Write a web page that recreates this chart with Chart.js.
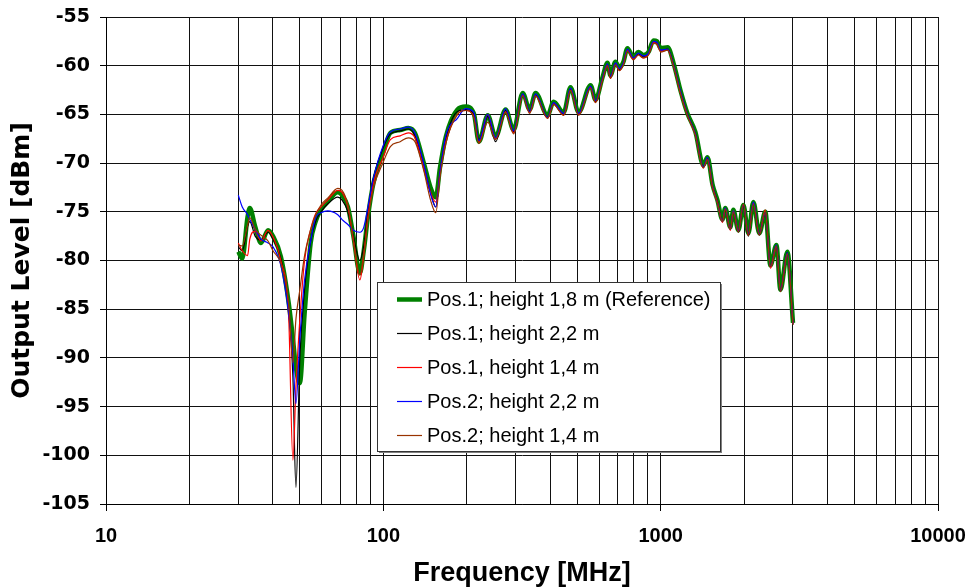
<!DOCTYPE html>
<html>
<head>
<meta charset="utf-8">
<script src="https://cdn.jsdelivr.net/npm/chart.js@4.4.1/dist/chart.umd.min.js"></script>
<style>
  html, body { margin: 0; padding: 0; background: #fff; }
  #wrap { position: relative; width: 968px; height: 588px; }
</style>
</head>
<body>
<div id="wrap"><canvas id="myChart"></canvas></div>
<script>
const FONT = '"Liberation Sans", Arial, sans-serif';
const WIDE = '"DejaVu Sans", "Liberation Sans", sans-serif';

// frequency points (MHz), shared by all measurements
const freqMHz = [
  30, 31, 32.4, 33, 34.5, 36.2, 38.4, 40, 42.7, 45.6,
  47.2, 48.4, 50, 52, 54.7, 57, 59.6, 63, 68.5, 71,
  74.5, 78, 82.3, 85, 88, 92.2, 99.6, 106, 115, 123,
  130, 140, 148, 154.6, 160, 168, 185, 198, 212, 221,
  238, 254, 276, 295, 318, 337, 354, 391, 411, 447,
  473, 506, 559, 582, 617, 643, 659, 687, 710, 734,
  759, 797, 831, 867, 904, 942, 970, 1000, 1060, 1112,
  1178, 1249, 1334, 1425, 1475, 1538, 1602, 1670, 1710, 1783,
  1828, 1906, 1987, 2071, 2159, 2268, 2384, 2488, 2614, 2703,
  2864, 3000
];

// Pos.1; height 1,8 m (Reference)
const levelRef = [
  -79.1, -79.8, -75.5, -74.6, -76.5, -78.2, -76.9, -77.5, -79.6, -84.4,
  -88.0, -91.0, -92.6, -85.5, -78.2, -76.0, -74.8, -74.0, -73.0, -73.3,
  -74.5, -77.5, -81.3, -79.0, -75.5, -72.0, -69.0, -66.9, -66.6, -66.4,
  -66.9, -70.0, -72.5, -73.5, -70.5, -67.3, -64.5, -64.2, -64.9, -67.8,
  -65.1, -67.3, -64.5, -66.6, -62.8, -64.5, -62.8, -65.1, -63.7, -64.8,
  -62.2, -64.8, -62.0, -63.5, -61.2, -59.7, -61.0, -59.6, -60.2, -59.6,
  -58.2, -59.1, -58.6, -58.9, -58.6, -57.4, -57.5, -58.2, -58.1, -59.7,
  -62.5, -64.9, -66.8, -70.2, -69.4, -72.2, -73.8, -75.8, -74.6, -76.6,
  -74.8, -76.9, -74.3, -77.2, -74.0, -77.2, -75.0, -80.5, -78.4, -83.0,
  -79.1, -86.4
];

// Pos.1; height 2,2 m
const levelP1h22 = [
  -78.6, -79.0, -76.5, -76.0, -77.5, -77.9, -77.1, -77.8, -79.8, -85.0,
  -92.0, -103.3, -90.0, -83.0, -78.0, -76.0, -75.0, -74.2, -73.5, -73.8,
  -75.0, -77.5, -80.0, -78.5, -75.0, -71.5, -68.5, -67.0, -66.7, -66.5,
  -67.2, -70.3, -73.0, -74.5, -71.0, -67.5, -64.7, -64.5, -65.0, -67.6,
  -65.2, -67.8, -64.6, -66.8, -63.0, -64.7, -63.0, -65.3, -63.9, -65.0,
  -62.4, -65.0, -62.2, -63.7, -61.4, -59.9, -61.2, -59.8, -60.4, -59.8,
  -58.4, -59.3, -58.8, -59.1, -58.8, -57.6, -57.7, -58.5, -58.3, -59.9,
  -62.7, -65.0, -67.0, -70.4, -69.5, -72.4, -73.9, -76.0, -74.8, -76.8,
  -75.0, -77.1, -74.4, -77.5, -74.1, -77.4, -75.1, -80.6, -78.5, -83.2,
  -79.2, -86.6
];

// Pos.1, height 1,4 m
const levelP1h14 = [
  -78.2, -79.0, -79.5, -77.8, -77.0, -78.0, -76.9, -77.6, -80.0, -86.0,
  -100.5, -93.0, -86.0, -80.0, -76.8, -75.2, -74.5, -73.8, -72.8, -73.0,
  -74.5, -78.0, -82.0, -79.5, -75.5, -72.0, -69.5, -67.6, -67.2, -66.9,
  -67.4, -70.5, -73.0, -74.0, -71.0, -67.8, -65.0, -64.6, -65.2, -67.9,
  -65.0, -67.5, -64.7, -66.9, -63.0, -64.8, -63.1, -65.4, -63.9, -65.1,
  -62.5, -65.0, -62.2, -63.8, -61.4, -59.9, -61.3, -59.8, -60.5, -59.8,
  -58.4, -59.3, -58.9, -59.2, -58.8, -57.6, -57.8, -58.5, -58.4, -60.0,
  -62.8, -65.1, -67.1, -70.5, -69.6, -72.5, -74.1, -76.1, -74.7, -76.9,
  -74.9, -77.0, -74.2, -77.4, -74.1, -77.3, -74.8, -80.8, -78.6, -83.1,
  -79.3, -86.5
];

// Pos.2; height 2,2 m
const levelP2h22 = [
  -73.3, -74.5, -75.3, -75.8, -76.8, -77.8, -78.2, -78.6, -80.5, -85.5,
  -90.0, -94.7, -88.0, -82.0, -78.0, -75.6, -75.1, -74.9, -75.3, -75.8,
  -76.3, -76.9, -77.1, -76.6, -74.5, -71.5, -68.3, -66.8, -66.5, -66.3,
  -66.9, -70.1, -73.2, -74.5, -71.0, -67.2, -65.4, -64.4, -64.8, -67.7,
  -65.0, -67.4, -64.4, -66.7, -62.9, -64.7, -62.9, -65.3, -63.8, -64.9,
  -62.3, -64.9, -62.1, -63.6, -61.3, -59.8, -61.1, -59.7, -60.3, -59.7,
  -58.3, -59.2, -58.7, -59.0, -58.7, -57.5, -57.6, -58.4, -58.3, -59.9,
  -62.6, -65.0, -67.0, -70.4, -69.4, -72.3, -74.0, -76.0, -74.6, -76.8,
  -74.9, -77.0, -74.3, -77.3, -74.0, -77.3, -75.1, -80.6, -78.4, -83.1,
  -79.2, -86.5
];

// Pos.2; height 1,4 m
const levelP2h14 = [
  -78.4, -78.5, -76.4, -75.6, -76.8, -77.4, -78.0, -79.0, -80.3, -84.5,
  -90.5, -86.0, -83.0, -79.5, -76.8, -75.3, -74.3, -73.6, -72.6, -72.8,
  -74.3, -77.8, -81.5, -79.3, -75.8, -72.5, -70.0, -68.3, -67.8, -67.4,
  -67.8, -70.8, -73.8, -75.1, -71.5, -68.0, -65.0, -64.6, -65.3, -68.0,
  -65.8, -67.6, -64.8, -67.0, -63.1, -64.9, -63.1, -65.4, -64.0, -65.1,
  -62.5, -65.1, -62.3, -63.8, -61.5, -60.0, -61.3, -59.9, -60.5, -59.9,
  -58.5, -59.4, -58.9, -59.2, -58.9, -57.7, -57.8, -58.6, -58.4, -60.0,
  -62.8, -65.1, -67.1, -70.5, -69.6, -72.4, -74.0, -76.0, -74.7, -76.8,
  -75.0, -77.1, -74.3, -77.4, -74.2, -77.4, -75.1, -80.6, -78.5, -83.2,
  -79.3, -86.6
];

const seriesLabels = [
  'Pos.1; height 1,8 m (Reference)',
  'Pos.1; height 2,2 m',
  'Pos.1, height 1,4 m',
  'Pos.2; height 2,2 m',
  'Pos.2; height 1,4 m'
];
const seriesLevels = [levelRef, levelP1h22, levelP1h14, levelP2h22, levelP2h14];
const seriesColors = ['#008000', '#000000', '#ff0000', '#0000ff', '#993300'];
const seriesWidths = [4.5, 1.2, 1.2, 1.2, 1.2];

const xTickLabels = [10, 100, 1000, 10000];
const isDecade = v => xTickLabels.includes(Math.round(v));

// legend box inside the plot, drawn on top of the curves
const boxLegend = {
  id: 'boxLegend',
  afterDraw(chart, args, o) {
    const c = chart.ctx;
    c.save();
    c.fillStyle = '#808080';
    c.fillRect(o.x + 2, o.y + 2, o.w, o.h);
    c.fillStyle = '#fff';
    c.fillRect(o.x, o.y, o.w, o.h);
    c.strokeStyle = '#333';
    c.lineWidth = 1;
    c.strokeRect(o.x + 0.5, o.y + 0.5, o.w, o.h);
    c.font = '20px ' + FONT;
    c.textBaseline = 'middle';
    chart.data.datasets.forEach((ds, i) => {
      const y = Math.round(o.y + o.first + i * o.step) + 0.5;
      c.strokeStyle = ds.borderColor;
      c.lineWidth = ds.borderWidth;
      c.beginPath();
      c.moveTo(o.x + 20, y);
      c.lineTo(o.x + 45, y);
      c.stroke();
      c.fillStyle = '#000';
      c.fillText(ds.label, o.x + 50, y + 1);
    });
    c.restore();
  }
};

const ctx = document.getElementById('myChart');

const datasets = seriesLabels.map((label, i) => ({
  label: label,
  data: freqMHz.map((f, k) => ({ x: f, y: seriesLevels[i][k] })),
  borderColor: seriesColors[i],
  backgroundColor: seriesColors[i],
  borderWidth: seriesWidths[i],
  pointRadius: 0,
  cubicInterpolationMode: 'monotone',
  fill: false,
  order: seriesLabels.length - i
}));

new Chart(ctx, {
  type: 'line',
  data: { datasets: datasets },
  plugins: [boxLegend],
  options: {
    responsive: true,
    maintainAspectRatio: false,
    animation: false,
    layout: { padding: { top: 17, right: 30, bottom: 0, left: 0 } },
    plugins: {
      legend: { display: false },
      tooltip: { enabled: false },
      boxLegend: { x: 377, y: 282, w: 343, h: 169, first: 17, step: 34 }
    },
    scales: {
      x: {
        type: 'logarithmic',
        min: 10,
        max: 10000,
        afterFit: s => { s.height = 84; s.paddingLeft = 0; s.paddingRight = 0; },
        afterBuildTicks: s => {
          const t = [];
          for (let d = 10; d < 10000; d *= 10) {
            for (let m = 1; m < 10; m++) t.push({ value: d * m });
          }
          t.push({ value: 10000 });
          s.ticks = t;
        },
        ticks: {
          autoSkip: false,
          maxRotation: 0,
          padding: 13,
          color: '#000',
          font: { family: FONT, size: 20, weight: 'bold' },
          callback: v => isDecade(v) ? String(Math.round(v)) : ''
        },
        grid: {
          color: '#111',
          lineWidth: 1,
          tickLength: 7,
          tickColor: c => (c.tick && isDecade(c.tick.value)) ? '#000' : 'rgba(0,0,0,0)'
        },
        border: { color: '#000', width: 1 },
        title: {
          display: true,
          text: 'Frequency [MHz]',
          color: '#000',
          font: { family: FONT, size: 27, weight: 'bold' },
          padding: { top: 0, bottom: -2 }
        }
      },
      y: {
        min: -105,
        max: -55,
        afterFit: s => { s.width = 106; s.paddingTop = 0; s.paddingBottom = 0; },
        ticks: {
          stepSize: 5,
          padding: 10,
          color: '#000',
          font: { family: WIDE, size: 19, weight: 'bold' }
        },
        grid: { color: '#111', lineWidth: 1, tickLength: 6, tickColor: '#000' },
        border: { color: '#000', width: 1 },
        title: {
          display: true,
          text: 'Output Level [dBm]',
          color: '#000',
          font: { family: WIDE, size: 25, weight: 'bold' },
          padding: { top: 7, bottom: 0 }
        }
      }
    }
  }
});
</script>
</body>
</html>
